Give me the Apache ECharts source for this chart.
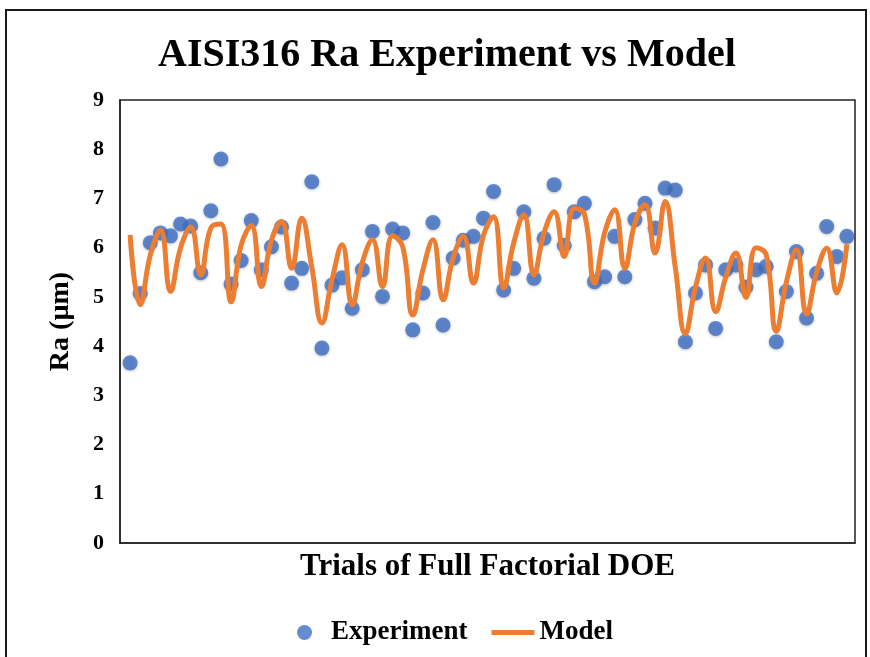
<!DOCTYPE html>
<html>
<head>
<meta charset="utf-8">
<script src="https://cdn.jsdelivr.net/npm/echarts@6/dist/echarts.min.js"></script>
<style>
html,body{margin:0;padding:0;background:#fff;}
#chart{width:870px;height:657px;}
</style>
</head>
<body>
<div id="chart"></div>
<script>
var titleText = 'AISI316 Ra Experiment vs Model';
var xAxisTitle = 'Trials of Full Factorial DOE';
var yAxisTitle = 'Ra (µm)';
var seriesNames = ['Experiment', 'Model'];

var trials = [];
for (var t = 1; t <= 72; t++) trials.push(t);

var experiment = [
  3.66, 5.07, 6.10, 6.30, 6.24, 6.48, 6.44, 5.49, 6.75, 7.80,
  5.26, 5.74, 6.55, 5.55, 6.02, 6.42, 5.28, 5.58, 7.34, 3.96,
  5.24, 5.39, 4.77, 5.55, 6.33, 5.01, 6.38, 6.30, 4.33, 5.08,
  6.51, 4.43, 5.79, 6.15, 6.23, 6.60, 7.14, 5.14, 5.58, 6.73,
  5.38, 6.19, 7.28, 6.05, 6.73, 6.90, 5.31, 5.41, 6.23, 5.41,
  6.57, 6.90, 6.40, 7.21, 7.17, 4.09, 5.08, 5.65, 4.36, 5.55,
  5.65, 5.20, 5.55, 5.62, 4.09, 5.11, 5.92, 4.57, 5.48, 6.43,
  5.82, 6.23
];

var model = [
  6.26, 4.84, 5.85, 6.36, 5.11, 6.00, 6.42, 5.45, 6.40, 6.48,
  4.90, 6.05, 6.45, 5.21, 6.15, 6.53, 5.58, 6.60, 5.60, 4.47,
  5.35, 6.06, 4.84, 5.70, 6.16, 5.21, 6.24, 6.02, 4.63, 5.55,
  6.16, 4.94, 5.80, 6.23, 5.28, 6.25, 6.63, 5.18, 6.10, 6.67,
  5.45, 6.30, 6.73, 5.82, 6.80, 6.68, 5.28, 6.30, 6.77, 5.58,
  6.50, 6.87, 5.89, 6.94, 5.60, 4.25, 5.20, 5.79, 4.70, 5.40,
  5.89, 4.99, 6.00, 5.86, 4.30, 5.30, 5.96, 4.65, 5.50, 5.99,
  5.08, 6.07
];

var yTicks = [0, 1, 2, 3, 4, 5, 6, 7, 8, 9];

function pairs(vals) {
  return trials.map(function (x, i) { return [x, vals[i]]; });
}

var FONT = '"Liberation Serif", "Times New Roman", serif';
var chart = echarts.init(document.getElementById('chart'), null, {renderer: 'canvas'});

chart.setOption({
  backgroundColor: '#ffffff',
  animation: false,
  title: {
    text: titleText,
    left: 153,
    top: 31,
    textStyle: {fontFamily: FONT, fontWeight: 'bold', fontSize: 40, color: '#000'}
  },
  graphic: [{
    type: 'rect',
    shape: {x: 6, y: 10, width: 860, height: 700},
    style: {fill: 'none', stroke: '#1a1a1a', lineWidth: 2},
    silent: true
  }],
  legend: {
    left: 292,
    top: 614,
    itemWidth: 43,
    itemHeight: 15,
    itemGap: 24,
    textStyle: {fontFamily: FONT, fontWeight: 'bold', fontSize: 27, color: '#000'},
    data: [
      {name: seriesNames[0], icon: 'circle', itemStyle: {color: '#3F6FC6'}},
      {name: seriesNames[1], icon: 'path://M0,0M43,15M0,5h43v5h-43z', itemStyle: {color: '#ED7D31'}}
    ]
  },
  grid: {
    left: 120, right: 15, top: 100, bottom: 114,
    show: true, borderColor: '#222', borderWidth: 1.5, backgroundColor: 'transparent'
  },
  xAxis: {
    type: 'value',
    min: 0,
    max: 72.8,
    name: xAxisTitle,
    nameLocation: 'middle',
    nameGap: 8,
    nameTextStyle: {fontFamily: FONT, fontWeight: 'bold', fontSize: 31, color: '#000', verticalAlign: 'top'},
    axisLine: {show: true, lineStyle: {color: '#222', width: 1.5}},
    axisTick: {show: false},
    axisLabel: {show: false},
    splitLine: {show: false}
  },
  yAxis: {
    type: 'value',
    min: 0,
    max: 9,
    interval: 1,
    name: yAxisTitle,
    nameLocation: 'middle',
    nameGap: 45,
    nameTextStyle: {fontFamily: FONT, fontWeight: 'bold', fontSize: 28, color: '#000'},
    axisLine: {show: true, lineStyle: {color: '#222', width: 1.5}},
    axisTick: {show: false},
    axisLabel: {
      margin: 16,
      fontFamily: FONT, fontWeight: 'bold', fontSize: 22, color: '#000',
      formatter: function (v) { return yTicks.indexOf(v) >= 0 ? String(v) : ''; }
    },
    splitLine: {show: false}
  },
  series: [
    {
      name: seriesNames[0],
      type: 'scatter',
      data: pairs(experiment),
      symbol: 'circle',
      symbolSize: 15,
      itemStyle: {
        color: '#3F6FC6',
        shadowBlur: 3,
        shadowColor: 'rgba(0,0,0,0.3)',
        shadowOffsetY: 1
      },
      z: 2
    },
    {
      name: seriesNames[1],
      type: 'line',
      data: pairs(model),
      smooth: 0.45,
      symbol: 'none',
      lineStyle: {color: '#ED7D31', width: 5},
      itemStyle: {color: '#ED7D31'},
      z: 3
    }
  ]
});
</script>
</body>
</html>
